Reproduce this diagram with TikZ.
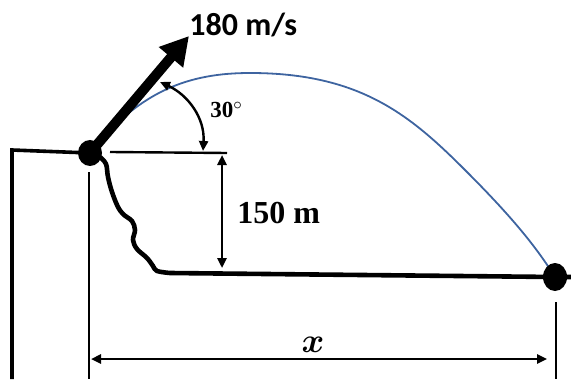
\documentclass[tikz,border=0pt]{standalone}
\usepackage{fontspec}
\setmainfont{Liberation Serif}
\newfontfamily\speedfont{Carlito}
\usetikzlibrary{arrows.meta}
\definecolor{trackblue}{RGB}{62,100,160}
\begin{document}
\begin{tikzpicture}[x=0.5pt,y=-0.5pt,
  dimline/.style={line width=1.2pt,{Triangle[length=5pt,width=4.5pt]}-{Triangle[length=5pt,width=4.5pt]}}]
 \useasboundingbox (0,0) rectangle (571,379);
 \coordinate (launch) at (90,153);
 \coordinate (landing) at (555,277);
 \coordinate (top) at (189,36);
 % cliff and ground
 \draw[line width=1.8pt] (12,379) -- (12,150) -- (launch);
 \draw[line width=1.4pt] (89,172) -- (89,379);
 \draw[line width=1.4pt] (556,302) -- (556,379);
 \draw[line width=2.3pt, line join=round] plot[smooth, tension=0.6] coordinates {(100,157) (106,164) (108,177) (112,192) (118,207) (124,215) (132,221) (135,230) (133,240) (137,249) (147,258) (153,266) (157,271) (170,273)} -- (landing) -- (571,277);
 % path of the projectile
 \draw[trackblue, line width=0.9pt] (launch) .. controls (140,90) and (190,73) .. (250,73) .. controls (360,73) and (410,115) .. (465,170) .. controls (510,215) and (535,245) .. (landing);
 \draw[line width=5pt, -{Triangle[length=14pt,width=15pt]}] (launch) -- (top);
 \fill (launch) ellipse [x radius=12, y radius=13];
 \fill (landing) ellipse [x radius=12, y radius=14];
 \node[anchor=base west, inner sep=0pt, font=\speedfont\bfseries\fontsize{16}{18}\selectfont] (speed) at (top) {180 m/s};
 % angle and height
 \draw[line width=1.2pt, {Triangle[length=5pt,width=4.5pt]}-{Triangle[length=5pt,width=4.5pt]}] (160,82) .. controls (188,95) and (205,118) .. (203,151);
 \node[anchor=base west, inner sep=0pt, font=\bfseries\fontsize{11.5}{13}\selectfont] (angle) at (210,118) {30$^{\circ}$};
 \coordinate (edge) at (227,153);
 \draw[line width=1.2pt] (110,152) -- (edge);
 \draw[dimline] (222,155) -- (222,268);
 \node[anchor=base west, inner sep=0pt, font=\bfseries\fontsize{16}{18}\selectfont] (height) at (237,223) {150 m};
 % range
 \draw[dimline] (91,359) -- (547,359);
 \node[anchor=base, inner sep=0pt, font=\fontsize{16}{18}\selectfont\boldmath] (range) at (313,352) {$x$};
\end{tikzpicture}
\end{document}
